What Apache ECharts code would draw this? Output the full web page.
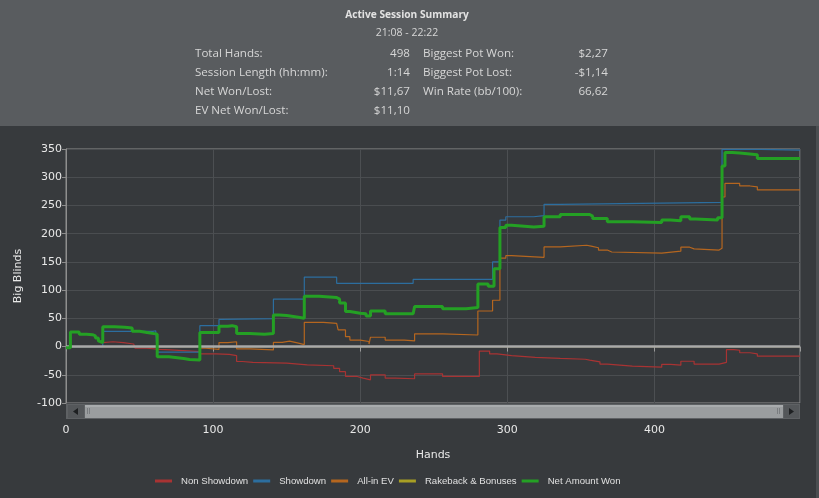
<!DOCTYPE html>
<html><head><meta charset="utf-8">
<script src="https://cdn.jsdelivr.net/npm/echarts@6/dist/echarts.min.js"></script>
<style>html,body{margin:0;padding:0;background:#373a3d;}#c{width:819px;height:498px;}</style>
</head><body><div id="c"></div>
<script>
var summaryTitle = 'Active Session Summary';
var summaryTime = '21:08 - 22:22';
var leftLabels = ['Total Hands:', 'Session Length (hh:mm):', 'Net Won/Lost:', 'EV Net Won/Lost:'];
var leftValues = ['498', '1:14', '$11,67', '$11,10'];
var rightLabels = ['Biggest Pot Won:', 'Biggest Pot Lost:', 'Win Rate (bb/100):'];
var rightValues = ['$2,27', '-$1,14', '66,62'];

var seriesNames = ['Non Showdown', 'Showdown', 'All-in EV', 'Rakeback & Bonuses', 'Net Amount Won'];
var xTicks = [0, 100, 200, 300, 400];
var yTicks = [-100, -50, 0, 50, 100, 150, 200, 250, 300, 350];

var netWon = [[0,-2],[3,26],[9,22],[14,21],[18,19],[20,15],[22,10],[23,7],[25,35],[33,34],[40,33],[45,27],[50,25],[55,22],[62,-18],[70,-21],[80,-23],[84,-24],[91,25],[98,25],[104,36],[110,37],[113,35],[116,23],[125,22],[135,23],[141,56],[145,55],[150,52],[158,50],[162,89],[172,87],[184,84],[186,77],[190,62],[193,59],[200,58],[204,54],[207,63],[217,58],[236,58],[237,71],[256,67],[272,69],[280,111],[287,107],[291,138],[295,211],[299,215],[303,212],[318,213],[325,230],[336,234],[356,231],[358,227],[368,221],[385,220],[405,224],[411,223],[418,230],[424,226],[428,224],[443,228],[446,320],[448,344],[453,343],[458,340],[470,333],[499,333]];
var showdown = [[0,0],[25,27],[59,28],[61,30],[62,-10],[91,37],[104,48],[106,49.5],[141,84],[162,123],[184,112],[236,119],[290,150],[295,224],[299,230],[318,232],[325,252],[336,255.5],[446,349.5],[472,348],[499,348]];
var nonShowdown = [[0,-2],[3,26],[9,22],[14,21],[18,19],[20,15],[22,10],[23,7],[25,8.5],[32,7],[39,4.5],[46,1],[47,-3],[55,-5],[64,-6],[71,-9],[91,-13],[102,-14],[111,-16],[116,-26.5],[120,-28],[127,-29.5],[150,-32.5],[164,-34],[182,-38.5],[186,-44.5],[190,-53],[198,-56],[202,-59],[207,-50],[217,-56],[224,-57],[237,-48.5],[256,-53],[281,-8],[288,-13],[293,-16],[303,-19],[319,-21],[336,-22.5],[353,-24],[356,-27],[363,-31],[368,-34.5],[385,-36.5],[405,-31.5],[411,-33],[418,-26],[427,-31],[444,-28],[449,-5.5],[454,-6.5],[458,-11],[465,-13],[470,-17],[499,-17]];
var allInEV = [[0,-2],[3,26],[9,22],[14,21],[18,19],[20,15],[22,10],[23,7],[25,35],[33,34],[40,33],[45,27],[50,25],[55,22],[62,-18],[70,-21],[80,-23],[84,-24],[91,-3],[95,-5],[104,7],[110,8.5],[116,-4],[125,-6],[141,7.5],[147,9.5],[152,6],[158,3.5],[162,43],[175,41],[184,39.5],[185,29.5],[190,17.5],[193,11.5],[200,9],[206,4.5],[207,16.5],[217,11.5],[230,10],[237,22.5],[256,20.5],[280,63],[290,82],[295,156.5],[299,161],[303,158],[325,176.5],[336,179.5],[354,178],[357,175],[362,171],[368,167.5],[371,165.5],[405,169],[418,176],[424,173],[427,171],[444,174],[446,265],[448,289],[458,284.5],[465,283],[470,277.5],[499,277.5]];
var rakeback = [[0,0],[499,0]];

var chart = echarts.init(document.getElementById('c'), null, {renderer:'canvas'});
var txt = '#d6d6d6';
var hdrFont = '"Open Sans", "Noto Sans", sans-serif';
var graphics = [
  {type:'rect', shape:{x:0,y:0,width:819,height:126}, style:{fill:'#595c5f'}, z:0},
  {type:'rect', shape:{x:816,y:126,width:3,height:372}, style:{fill:'#4b4e51'}, z:0},
  {type:'text', x:407, y:15, style:{text:summaryTitle, fill:'#e2e2e2', font:'bold 10.2px '+hdrFont, textAlign:'center', textVerticalAlign:'middle'}},
  {type:'text', x:407, y:33, style:{text:summaryTime, fill:txt, font:'10.5px '+hdrFont, textAlign:'center', textVerticalAlign:'middle'}}
];
var rowY = [54, 73, 92, 111];
leftLabels.forEach(function(s,i){
  graphics.push({type:'text', x:195, y:rowY[i], style:{text:s, fill:txt, font:'11.6px '+hdrFont, textVerticalAlign:'middle'}});
  graphics.push({type:'text', x:410, y:rowY[i], style:{text:leftValues[i], fill:txt, font:'11.6px '+hdrFont, textAlign:'right', textVerticalAlign:'middle'}});
});
rightLabels.forEach(function(s,i){
  graphics.push({type:'text', x:423, y:rowY[i], style:{text:s, fill:txt, font:'11.6px '+hdrFont, textVerticalAlign:'middle'}});
  graphics.push({type:'text', x:608, y:rowY[i], style:{text:rightValues[i], fill:txt, font:'11.6px '+hdrFont, textAlign:'right', textVerticalAlign:'middle'}});
});
// scrollbar decoration
graphics.push({type:'rect', shape:{x:66,y:404,width:734,height:15}, style:{fill:'#5e6164'}, z:10});
graphics.push({type:'rect', shape:{x:68,y:405,width:16,height:13}, style:{fill:'#54575a'}, z:11});
graphics.push({type:'polygon', shape:{points:[[73,411.5],[78,408],[78,415]]}, style:{fill:'#1e2022'}, z:12});
graphics.push({type:'rect', shape:{x:85,y:405,width:698,height:13}, style:{fill:'#9a9d9f'}, z:11});
graphics.push({type:'rect', shape:{x:85,y:405,width:698,height:2}, style:{fill:'#a8abad'}, z:12});
graphics.push({type:'rect', shape:{x:87,y:408,width:1,height:6}, style:{fill:'#7a7d80'}, z:12});
graphics.push({type:'rect', shape:{x:89,y:408,width:1,height:6}, style:{fill:'#7a7d80'}, z:12});
graphics.push({type:'rect', shape:{x:777,y:408,width:1,height:6}, style:{fill:'#7a7d80'}, z:12});
graphics.push({type:'rect', shape:{x:779,y:408,width:1,height:6}, style:{fill:'#7a7d80'}, z:12});
graphics.push({type:'rect', shape:{x:784,y:405,width:15,height:13}, style:{fill:'#54575a'}, z:11});
graphics.push({type:'polygon', shape:{points:[[794,411.5],[789,408],[789,415]]}, style:{fill:'#1e2022'}, z:12});

var axFont = '"DejaVu Sans", sans-serif';
function lineSeries(name, data, color, width, z){
  return {name:name, type:'line', step:'end', data:data, symbol:'none', showSymbol:false,
    lineStyle:{color:color, width:width}, itemStyle:{color:color}, z:z, animation:false, clip:true};
}
var rk = lineSeries(seriesNames[3], rakeback, '#a89f24', 1.2, 2);
rk.markLine = {silent:true, symbol:'none', label:{show:false}, lineStyle:{color:'#a9a9a9', width:2.5, type:'solid'}, data:[{yAxis:0}], animation:false};

chart.setOption({
  backgroundColor:'#373a3d',
  animation:false,
  grid:{left:66, top:149, width:734, height:254, show:true, borderColor:'#8e8e8e', borderWidth:1, backgroundColor:'#36393c'},
  xAxis:{type:'value', min:0, max:499, interval:100, offset:17,
    name:'Hands', nameLocation:'middle', nameGap:30, nameTextStyle:{color:'#e8e8e8', fontFamily:axFont, fontSize:11},
    axisLine:{show:false}, axisTick:{show:true, length:5, lineStyle:{color:'#9a9a9a'}},
    axisLabel:{color:'#e8e8e8', fontFamily:axFont, fontSize:11, margin:5, formatter:function(v){return xTicks.indexOf(v)>=0?String(v):'';}},
    splitLine:{show:true, lineStyle:{color:'#4c4f52', width:1}}},
  yAxis:{type:'value', min:-100, max:350, interval:50,
    name:'Big Blinds', nameLocation:'middle', nameGap:42, nameRotate:90, nameTextStyle:{color:'#e8e8e8', fontFamily:axFont, fontSize:11},
    axisLine:{show:true, lineStyle:{color:'#8e8e8e'}}, axisTick:{show:true, length:4, lineStyle:{color:'#8e8e8e'}},
    axisLabel:{color:'#e8e8e8', fontFamily:axFont, fontSize:11, margin:4, formatter:function(v){return yTicks.indexOf(v)>=0?String(v):'';}},
    splitLine:{show:true, lineStyle:{color:'#4a4d50', width:1}}},
  legend:{left:150, top:471, itemWidth:17, itemHeight:3, itemGap:5, icon:'rect',
    textStyle:{color:'#e0e0e0', fontFamily:'"Liberation Sans", Arial, sans-serif', fontSize:9.6, padding:[0,0,0,4]},
    data:seriesNames},
  graphic:graphics,
  series:[
    lineSeries(seriesNames[0], nonShowdown, '#a83333', 1.2, 3),
    lineSeries(seriesNames[1], showdown, '#2c6e9f', 1.2, 3),
    lineSeries(seriesNames[2], allInEV, '#b5661f', 1.2, 3),
    rk,
    lineSeries(seriesNames[4], netWon, '#24a024', 3, 5)
  ]
});
</script></body></html>
